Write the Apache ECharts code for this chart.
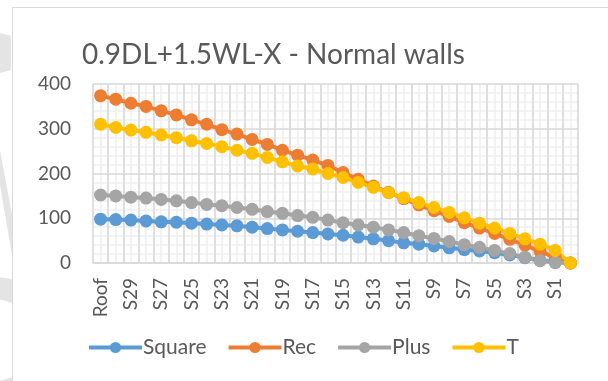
<!DOCTYPE html>
<html>
<head>
<meta charset="utf-8">
<script src="https://cdn.jsdelivr.net/npm/echarts@6/dist/echarts.min.js"></script>
<style>
  html, body { margin: 0; padding: 0; background: #ffffff; }
  #chart { width: 608px; height: 381px; }
</style>
</head>
<body>
<div id="chart"></div>
<script>
// Storey levels, top to bottom
const storeys = ['Roof', 'S30', 'S29', 'S28', 'S27', 'S26', 'S25', 'S24', 'S23', 'S22', 'S21',
  'S20', 'S19', 'S18', 'S17', 'S16', 'S15', 'S14', 'S13', 'S12', 'S11',
  'S10', 'S9', 'S8', 'S7', 'S6', 'S5', 'S4', 'S3', 'S2', 'S1', 'Base'];

// Storey shear per wall layout
const squareVals = [98, 97, 96, 94, 92, 91, 89, 87, 85, 83, 80, 77, 74, 71, 68, 65,
  62, 58, 54, 50, 45, 42, 38, 34, 30, 27, 23, 18, 12, 6, 2, 0];
const recVals = [374, 366, 357, 350, 340, 331, 320, 310, 298, 288, 276, 265, 252, 241, 230, 218,
  202, 187, 172, 158, 144, 130, 117, 104, 90, 78, 66, 53, 40, 26, 12, 0];
const plusVals = [152, 150, 147, 145, 142, 139, 135, 131, 128, 124, 120, 115, 111, 106, 102, 96,
  90, 85, 80, 74, 68, 61, 55, 48, 41, 35, 28, 21, 13, 5, 1, 0];
const tVals = [310, 303, 297, 292, 286, 280, 273, 267, 260, 252, 245, 236, 226, 217, 210, 200,
  191, 180, 169, 157, 146, 135, 124, 113, 101, 89, 78, 66, 54, 42, 28, 0];

const yTicks = [0, 100, 200, 300, 400];

const FONT = 'Lato';
const TEXT = '#595959';
const MAJOR = '#d9d9d9';
const MINOR = '#efefef';

// half-category positions for the light vertical minor grid
const halfSteps = [];
for (let i = 0; i < storeys.length * 2; i++) halfSteps.push(String(i));

function lineSeries(name, data, color) {
  return {
    name: name,
    type: 'line',
    data: data,
    xAxisIndex: 0,
    symbol: 'circle',
    symbolSize: 13,
    showSymbol: true,
    showAllSymbol: true,
    lineStyle: { color: color, width: 4 },
    itemStyle: { color: color },
    emphasis: { disabled: true },
    animation: false
  };
}

const chart = echarts.init(document.getElementById('chart'), null, { renderer: 'canvas' });

chart.setOption({
  backgroundColor: '#ffffff',
  animation: false,
  textStyle: { fontFamily: FONT },
  graphic: [
    // faint marks in the left margin
    { type: 'polygon', z: -20, silent: true,
      shape: { points: [[0, 33], [11, 36], [11, 70], [0, 73]] },
      style: { fill: '#e4e4e4' } },
    { type: 'polygon', z: -20, silent: true,
      shape: { points: [[0, 150], [0, 185], [12, 255], [12, 215]] },
      style: { fill: '#e4e4e4' } },
    { type: 'circle', z: -20, silent: true,
      shape: { cx: -6, cy: 340, r: 52 },
      style: { fill: 'none', stroke: '#e4e4e4', lineWidth: 22 } },
    // chart frame
    { type: 'rect', z: -10, silent: true,
      shape: { x: 12.5, y: 7.5, width: 620, height: 400 },
      style: { fill: '#ffffff', stroke: '#d9d9d9', lineWidth: 1 } }
  ],
  title: {
    text: '0.9DL+1.5WL-X - Normal walls',
    left: 77,
    top: 36,
    textStyle: { fontFamily: FONT, fontSize: 28, fontWeight: 'normal', color: TEXT }
  },
  legend: {
    data: ['Square', 'Rec', 'Plus', 'T'],
    left: 82,
    top: 332,
    itemWidth: 53,
    itemHeight: 14,
    itemGap: 20,
    lineStyle: { width: 4 },
    textStyle: { fontFamily: FONT, fontSize: 21, color: TEXT, padding: [0, 0, 0, -4] }
  },
  grid: { left: 93, right: 30, top: 84, bottom: 118, containLabel: false },
  xAxis: [
    {
      type: 'category',
      data: storeys,
      boundaryGap: true,
      z: 2,
      axisLine: { show: true, lineStyle: { color: MAJOR, width: 1.5 } },
      axisTick: { show: false },
      axisLabel: {
        rotate: 90, interval: 1, margin: 15,
        fontFamily: FONT, fontSize: 19, color: TEXT
      },
      splitLine: { show: true, interval: 0, lineStyle: { color: MAJOR, width: 1.5 } }
    },
    {
      type: 'category',
      data: halfSteps,
      boundaryGap: true,
      position: 'bottom',
      z: 0,
      axisLine: { show: false },
      axisTick: { show: false },
      axisLabel: { show: false },
      splitLine: { show: true, interval: 0, lineStyle: { color: MINOR, width: 1.5 } }
    }
  ],
  yAxis: {
    type: 'value',
    min: yTicks[0],
    max: yTicks[yTicks.length - 1],
    interval: 100,
    z: 1,
    axisLine: { show: false },
    axisTick: { show: false },
    axisLabel: { margin: 22, fontFamily: FONT, fontSize: 19, color: TEXT },
    splitLine: { show: true, lineStyle: { color: MAJOR, width: 1.5 } },
    minorTick: { show: false, splitNumber: 5 },
    minorSplitLine: { show: true, lineStyle: { color: MINOR, width: 1.5 } }
  },
  series: [
    lineSeries('Square', squareVals, '#5b9bd5'),
    lineSeries('Rec', recVals, '#ed7d31'),
    lineSeries('Plus', plusVals, '#a5a5a5'),
    lineSeries('T', tVals, '#ffc000')
  ]
});
</script>
</body>
</html>
